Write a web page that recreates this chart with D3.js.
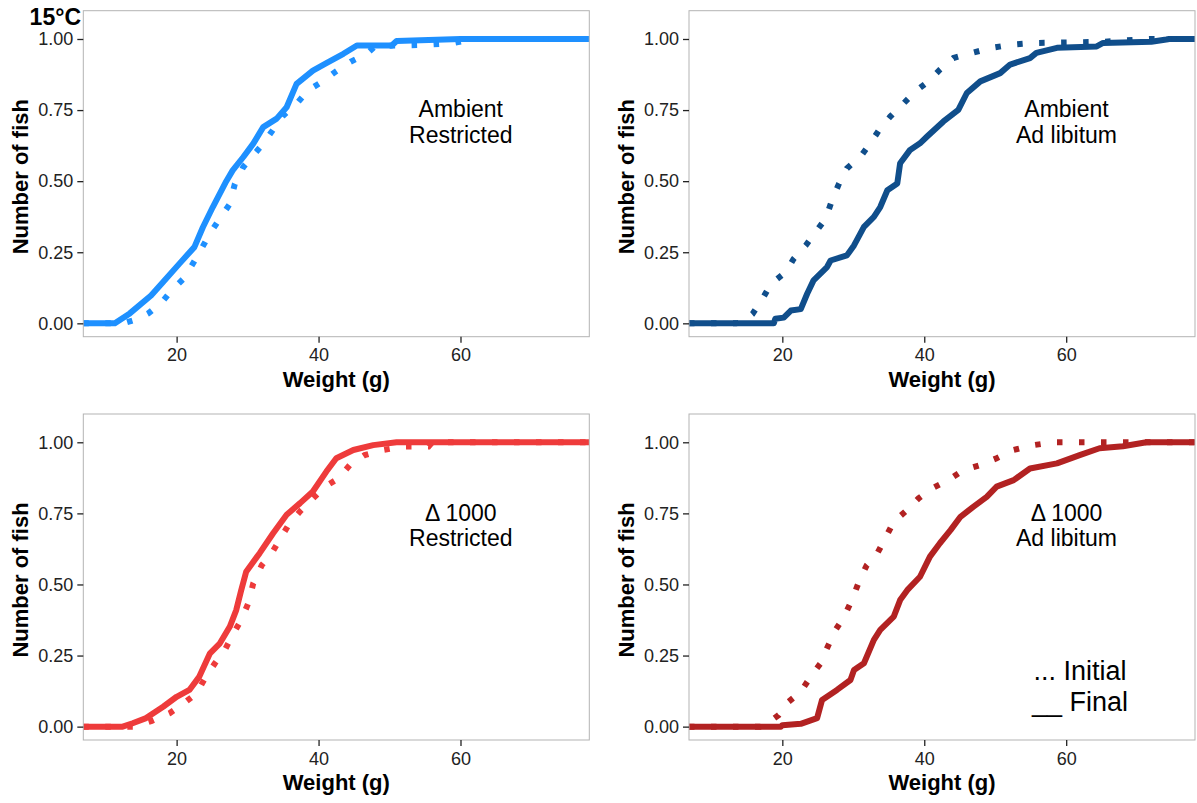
<!DOCTYPE html>
<html><head><meta charset="utf-8">
<script src="https://cdn.jsdelivr.net/npm/d3@7"></script>
<style>
body{margin:0;background:#fff;}
svg{display:block;font-family:"Liberation Sans",Arial,sans-serif;}
</style></head>
<body>
<svg id="chart" width="1197" height="803"></svg>
<script>
// ---- data: [weight (g), cumulative proportion] ----
const ambRestInitial = [[12.5,0],[14.5,0.015],[16,0.035],[17.8,0.071],[19.3,0.116],[21.1,0.16],[23,0.24],[24.7,0.316],[26.1,0.369],[27.5,0.42],[28.2,0.49],[29.4,0.55],[32.2,0.632],[35,0.73],[36.9,0.772],[38.5,0.819],[40.4,0.848],[42.5,0.887],[44.5,0.92],[46.8,0.948],[48,0.975],[55.5,0.98],[58.8,0.985],[61.8,1]];
const ambRestFinal = [[11.3,0],[13.4,0.035],[16.4,0.098],[18.1,0.145],[20.4,0.21],[22.5,0.268],[23.7,0.338],[25.1,0.409],[27.0,0.5],[27.9,0.538],[29.4,0.585],[30.8,0.632],[32.2,0.69],[34.1,0.72],[35.5,0.76],[36.9,0.842],[39.2,0.889],[41.1,0.915],[43.5,0.948],[45.4,0.977],[50.3,0.977],[51.0,0.993],[60,1]];
const ambAdlibInitial = [[13.5,0],[14.5,0.005],[15.8,0.033],[17.2,0.086],[18.4,0.139],[20.5,0.18],[21.6,0.227],[23.3,0.274],[24.7,0.321],[26.1,0.368],[27.0,0.433],[28.0,0.492],[29.1,0.545],[31.0,0.586],[32.4,0.633],[33.8,0.686],[35.2,0.727],[37.1,0.774],[38.7,0.815],[40.6,0.851],[42.2,0.892],[44.1,0.933],[46.7,0.951],[49.5,0.969],[52.3,0.98],[55.4,0.986],[65,0.99],[71.8,1]];
const ambAdlibFinal = [[18.8,0],[19,0.016],[20.2,0.02],[21.2,0.045],[22.6,0.05],[23.5,0.104],[24.4,0.151],[26.3,0.198],[26.8,0.221],[29.1,0.239],[30.1,0.274],[31.5,0.339],[32.9,0.374],[33.8,0.409],[34.8,0.468],[36.2,0.492],[36.6,0.563],[38.0,0.61],[39.4,0.633],[40.4,0.657],[42.7,0.71],[44.8,0.751],[46.0,0.81],[47.9,0.851],[50.7,0.88],[52.1,0.91],[54.9,0.933],[55.8,0.951],[58.7,0.969],[64.3,0.974],[65.2,0.986],[72,0.99],[74.1,0.998],[74.5,1]];
const d1000RestInitial = [[14,0],[16.5,0.02],[19.0,0.047],[20.7,0.076],[22.8,0.117],[24,0.17],[25.4,0.223],[26.8,0.27],[28.0,0.328],[29.1,0.375],[30.1,0.434],[30.8,0.504],[32.0,0.568],[33.4,0.61],[34.5,0.656],[35.9,0.715],[37.5,0.76],[39.0,0.797],[40.9,0.844],[42.8,0.873],[44.4,0.92],[46.5,0.955],[49.1,0.973],[51.9,0.985],[55.5,0.985],[56,1]];
const d1000RestFinal = [[12.4,0],[13.8,0.012],[15.7,0.03],[18.1,0.07],[20,0.105],[21.8,0.129],[23.2,0.176],[24.7,0.258],[26.1,0.293],[27.5,0.352],[28.4,0.41],[29.1,0.48],[29.8,0.545],[31.7,0.61],[33.6,0.68],[35.5,0.745],[37.4,0.786],[39.2,0.827],[41.1,0.897],[42.5,0.944],[44.9,0.973],[47.7,0.99],[51,1]];
const d1000AdlibInitial = [[16.9,0],[17.5,0.005],[19.5,0.041],[20.9,0.088],[22.6,0.123],[24.0,0.176],[25.4,0.223],[26.3,0.276],[27.5,0.34],[28.7,0.387],[29.8,0.445],[30.8,0.51],[31.9,0.568],[33.4,0.61],[34.5,0.662],[35.7,0.721],[37.6,0.762],[39.2,0.803],[41.1,0.838],[43.4,0.867],[45.5,0.902],[47.9,0.92],[50.2,0.944],[52.6,0.973],[55.4,0.99],[58.2,1]];
const d1000AdlibFinal = [[19.8,0],[20,0.005],[22.6,0.01],[24.9,0.03],[25.6,0.094],[27.7,0.129],[29.6,0.164],[30.1,0.199],[31.5,0.223],[32.9,0.305],[33.8,0.34],[35.7,0.387],[36.6,0.445],[37.6,0.48],[39.4,0.527],[40.8,0.598],[42.2,0.645],[43.7,0.691],[45.1,0.738],[46.9,0.773],[48.8,0.808],[50.2,0.844],[52.6,0.867],[54.9,0.908],[58.7,0.926],[61.9,0.955],[64.7,0.979],[68,0.986],[71.3,1]];

const panelLabels = [["Ambient","Restricted"],["Ambient","Ad libitum"],["\u0394 1000","Restricted"],["\u0394 1000","Ad libitum"]];
const panelColors = ["#1E90FF","#104E8B","#EE3B3B","#B22222"];
const xTicks = [20,40,60];
const yTicks = [0,0.25,0.5,0.75,1];
const xDomain = [6.85,78.15];
const yDomain = [-0.047,1.0995];
const legendLines = ["... Initial","__ Final"];
const tempLabel = "15\u00B0C";

const panels = [
  {initial: ambRestInitial, final: ambRestFinal},
  {initial: ambAdlibInitial, final: ambAdlibFinal},
  {initial: d1000RestInitial, final: d1000RestFinal},
  {initial: d1000AdlibInitial, final: d1000AdlibFinal}
];

// ---- layout ----
const svg = d3.select("#chart");
const colX = [83.3, 689];
const rowY = [10.7, 414];
const pw = 506, ph = 326;

panels.forEach((p, i) => {
  const x0 = colX[i % 2], y0 = rowY[Math.floor(i / 2)];
  const g = svg.append("g").attr("transform", `translate(${x0},${y0})`);
  const x = d3.scaleLinear().domain(xDomain).range([0, pw]);
  const y = d3.scaleLinear().domain(yDomain).range([ph, 0]);
  const col = panelColors[i];

  g.append("clipPath").attr("id", "clip" + i)
    .append("rect").attr("width", pw).attr("height", ph);

  const line = d3.line().x(d => x(d[0])).y(d => y(d[1]));
  const ext = arr => [[xDomain[0], 0], ...arr, [xDomain[1], 1]];

  const plot = g.append("g").attr("clip-path", `url(#clip${i})`);
  plot.append("path").datum(ext(p.final))
    .attr("d", line).attr("fill", "none").attr("stroke", col)
    .attr("stroke-width", 6).attr("stroke-linejoin", "round");
  plot.append("path").datum(ext(p.initial))
    .attr("d", line).attr("fill", "none").attr("stroke", col)
    .attr("stroke-width", 6).attr("stroke-dasharray", "5.5,16.5");

  // border
  g.append("rect").attr("width", pw).attr("height", ph)
    .attr("fill", "none").attr("stroke", "#b3b3b3").attr("stroke-width", 1);

  // axes
  const xa = g.append("g").attr("transform", `translate(0,${ph})`)
    .call(d3.axisBottom(x).tickValues(xTicks).tickSize(6).tickPadding(6).tickFormat(d3.format("d")));
  const ya = g.append("g")
    .call(d3.axisLeft(y).tickValues(yTicks).tickSize(6).tickPadding(4).tickFormat(d3.format(".2f")));
  [xa, ya].forEach(a => {
    a.select(".domain").remove();
    a.selectAll(".tick line").attr("stroke", "#222").attr("stroke-width", 1.3);
    a.selectAll(".tick text").attr("fill", "#222").style("font-size", "18px")
      .style("font-family", '"Liberation Sans",Arial,sans-serif');
  });

  g.append("text").attr("x", pw / 2).attr("y", ph + 50)
    .attr("text-anchor", "middle").style("font-size", "22px").style("font-weight", "bold")
    .text("Weight (g)");
  g.append("text").attr("transform", `translate(${-55},${ph / 2 + 3}) rotate(-90)`)
    .attr("text-anchor", "middle").style("font-size", "22px").style("font-weight", "bold")
    .text("Number of fish");

  // annotation
  const lab = panelLabels[i];
  g.append("text").attr("x", 377.5).attr("y", 106.5).attr("text-anchor", "middle")
    .style("font-size", "23px").text(lab[0]);
  g.append("text").attr("x", 377.5).attr("y", 132).attr("text-anchor", "middle")
    .style("font-size", "23px").text(lab[1]);

  if (i === 3) {
    g.append("text").attr("x", 391).attr("y", 266).attr("text-anchor", "middle")
      .style("font-size", "27px").text(legendLines[0]);
    g.append("text").attr("x", 391).attr("y", 297).attr("text-anchor", "middle")
      .style("font-size", "27px").text(legendLines[1]);
  }
});

svg.append("text").attr("x", 81).attr("y", 24.5).attr("text-anchor", "end")
  .style("font-size", "23px").style("font-weight", "bold").text(tempLabel);
</script>
</body></html>
